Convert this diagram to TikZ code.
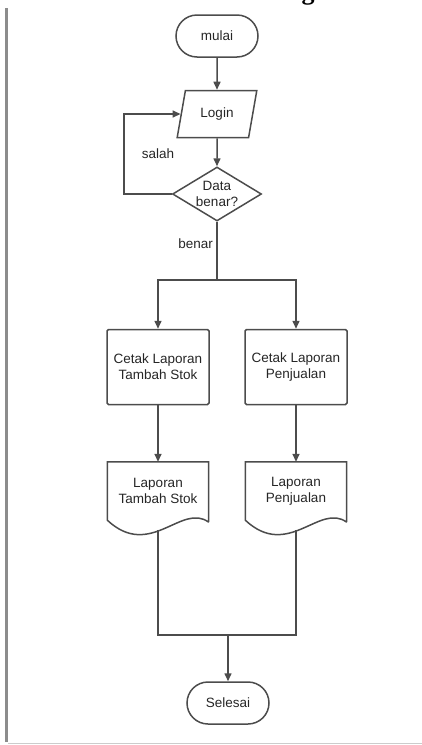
\documentclass[tikz,border=0pt]{standalone}
\usepackage{fontspec}
\setmainfont{Liberation Sans}
\newfontfamily\judulfont{Liberation Serif}
\usetikzlibrary{shapes.geometric, shapes.misc, arrows.meta}

\begin{document}
\begin{tikzpicture}[x=1pt, y=-1pt,
		>={Triangle[length=8pt, width=7pt]},   %Pfeilspitzen
		font=\fontsize{13.5}{16}\selectfont, text=black!85,
		garis/.style={draw=black!70, line width=1.5pt},
		terminal/.style={rounded rectangle, garis, minimum width=86pt, minimum height=42pt, inner sep=2pt},
		masukan/.style={trapezium, trapezium left angle=75, trapezium right angle=105, trapezium stretches=true, garis, minimum width=80pt, minimum height=47pt},
		keputusan/.style={diamond, garis, aspect=1.65, inner sep=0pt, minimum width=89pt, minimum height=54pt, align=center},
		proses/.style={rectangle, garis, rounded corners=1.5pt, minimum width=102pt, minimum height=75pt, align=center},
		dokumen/.style={rectangle, minimum width=101pt, minimum height=58pt, align=center}]
		%Bildbereich
		\useasboundingbox (0,0) rectangle (422,745);
		% bingkai
		\draw[black!45, line width=3pt] (6.5,8) -- (6.5,742);
		\draw[black!20, line width=1.5pt] (8,743.5) -- (422,743.5);
		% potongan judul
		\begin{scope}
			\clip (0,0) rectangle (422,745);
			\node[font=\judulfont\bfseries\fontsize{26}{26}\selectfont, text=black, anchor=base, inner sep=0pt] (judul) at (308,-1) {g};
		\end{scope}
		% simbol
		\node[terminal] (mulai) at (217,36) {mulai};
		\node[masukan] (login) at (217,114) {Login};
		\node[keputusan] (cek) at (217,194) {Data\\benar?};
		\node[proses] (cetakstok) at (158,367) {Cetak Laporan\\Tambah Stok};
		\node[proses] (cetakjual) at (296,367) {Cetak Laporan\\Penjualan};
		\node[dokumen] (lapstok) at (158,491) {Laporan\\Tambah Stok};
		\node[dokumen] (lapjual) at (296,491) {Laporan\\Penjualan};
		\node[terminal] (selesai) at (228,703) {Selesai};
		\coordinate (cabang) at (217,280);
		\coordinate (gabung) at (228,635);
		% garis dokumen
		\foreach \d in {lapstok, lapjual}
			\draw[garis] ([yshift=-2pt]\d.south east) -- (\d.north east) -- (\d.north west) -- (\d.south west)
				.. controls +(43,40) and +(-27,-20) .. ([yshift=-2pt]\d.south east);
		% alur
		\draw[garis, ->] (mulai) -- (login);
		\draw[garis, ->] (login) -- (cek);
		\draw[garis, ->] (cek.west) -- ++(-48,0) |- node[pos=.25, right=14pt] {salah} (login);
		\draw[garis] (cek) -- node[pos=.38, left] {benar} (cabang);
		\foreach \p in {cetakstok, cetakjual} \draw[garis, ->] (cabang) -| (\p);
		\draw[garis, ->] (cetakstok) -- (lapstok);
		\draw[garis, ->] (cetakjual) -- (lapjual);
		\draw[garis] ([yshift=-10pt]lapstok.south) |- (gabung) -| ([yshift=-10pt]lapjual.south);
		\draw[garis, ->] (gabung) -- (selesai);
	\end{tikzpicture}
\end{document}
